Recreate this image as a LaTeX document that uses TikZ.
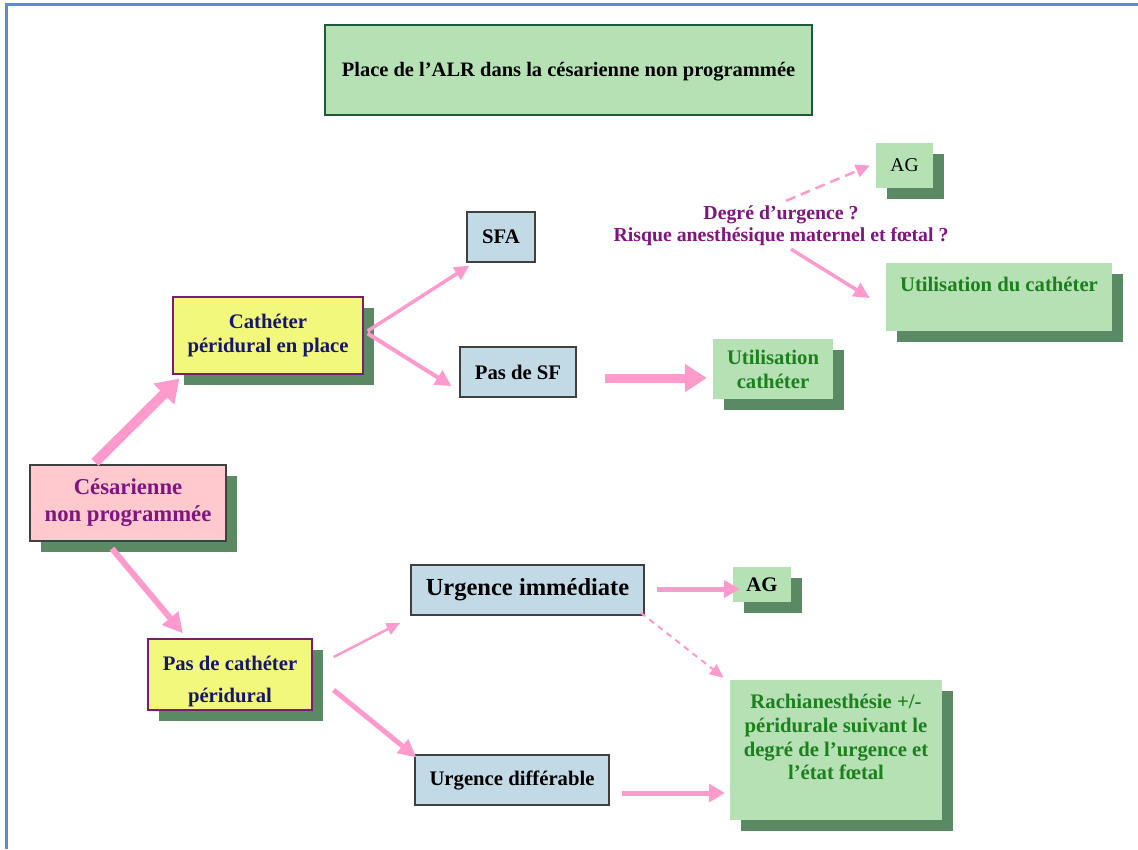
\documentclass[tikz,border=0pt]{standalone}
\usepackage{fontspec}
\setmainfont{Liberation Serif}
\usetikzlibrary{arrows.meta,shadows,calc}
\definecolor{lgreen}{HTML}{B5E1B5}
\definecolor{sgreen}{HTML}{5A8A64}
\definecolor{tborder}{HTML}{1E5A3A}
\definecolor{lblue}{HTML}{C2D9E6}
\definecolor{gborder}{HTML}{404040}
\definecolor{lyellow}{HTML}{F2F87C}
\definecolor{pborder}{HTML}{7A1A7A}
\definecolor{lpink}{HTML}{FFC9CD}
\definecolor{apink}{HTML}{FF9ACD}
\definecolor{tpurple}{HTML}{80157F}
\definecolor{tnavy}{HTML}{16166E}
\definecolor{tgreen}{HTML}{1C801C}
\definecolor{fblue}{HTML}{5B8DD6}
\tikzset{
  base/.style={font=\fontsize{20.7}{24}\selectfont\bfseries, align=center, inner sep=0pt},
  shad/.style={drop shadow={shadow xshift=11pt, shadow yshift=-11pt, fill=sgreen, opacity=1}},
  greenbox/.style={base, fill=lgreen, shad, text=tgreen},
  bluebox/.style={base, fill=lblue, draw=gborder, line width=1.2pt, text=black},
  yellowbox/.style={base, fill=lyellow, draw=pborder, line width=1.2pt, shad, text=tnavy},
  pinkbox/.style={base, fill=lpink, draw=gborder, line width=1.2pt, shad, text=tpurple},
  parrow/.style={draw=apink, line cap=butt},
}
\begin{document}
\begin{tikzpicture}[x=1pt,y=-1pt]
\useasboundingbox (0,0) rectangle (1138,849);
\fill[white] (0,0) rectangle (1138,849);
% frame
\draw[fblue, line width=3pt] (6,849) -- (6,4.5) -- (1138,4.5);

% nodes
\node[base, fill=lgreen, draw=tborder, line width=1.5pt, minimum width=487pt, minimum height=90pt,
      font=\fontsize{20.5}{24}\selectfont\bfseries] (title) at (568.5,70)
  {\rule{0pt}{17pt}Place de l’ALR dans la césarienne non programmée};

\node[greenbox, text=black, font=\fontsize{19.5}{24}\selectfont, minimum width=57pt, minimum height=45pt] (agtop) at (904.5,165.5) {AG};

\node[base, text=tpurple, font=\fontsize{19.8}{22}\selectfont\bfseries] (deg) at (781,226)
  {Degré d’urgence ?\\Risque anesthésique maternel et fœtal ?};

\node[greenbox, minimum width=226pt, minimum height=68pt] (utilcath) at (999,297)
  {Utilisation du cathéter\\[2pt]\mbox{}};

\node[bluebox, minimum width=68pt, minimum height=50pt] (sfa) at (501,237) {SFA};
\node[bluebox, minimum width=116pt, minimum height=50pt] (passf) at (518,372) {Pas de SF};

\node[greenbox, minimum width=120pt, minimum height=60pt] (utilc) at (773,369)
  {Utilisation\\cathéter};

\node[yellowbox, minimum width=190pt, minimum height=77pt] (cath) at (268,335.5)
  {Cathéter\\péridural en place};

\node[pinkbox, minimum width=196pt, minimum height=76pt, font=\fontsize{22.7}{27}\selectfont\bfseries] (ces) at (128,503)
  {Césarienne\\non programmée};

\node[yellowbox, minimum width=164pt, minimum height=71pt] (pascath) at (230,674.5)
  {\rule{0pt}{29pt}Pas de cathéter\\[8pt]péridural};

\node[bluebox, minimum width=233pt, minimum height=50pt, font=\fontsize{24.5}{28}\selectfont\bfseries] (urgimm) at (527.5,590)
  {Urgence immédiate};

\node[greenbox, text=black, minimum width=58pt, minimum height=35pt] (aglow) at (762,584.5) {AG};

\node[bluebox, minimum width=194pt, minimum height=50pt] (urgdiff) at (512,780)
  {Urgence différable};

\node[greenbox, minimum width=212pt, minimum height=140pt, font=\fontsize{20.7}{23.7}\selectfont\bfseries] (rachi) at (836,750)
  {Rachianesthésie +/-\\péridurale suivant le\\degré de l’urgence et\\l’état fœtal\\[2pt]\mbox{}};

% connectors
\draw[parrow, line width=10pt, -{Triangle[length=22pt,width=28pt]}]
  ($(ces.north)+(-33,-2)$) -- ($(cath.south west)+(7,4)$);
\draw[parrow, line width=6pt, -{Triangle[length=20pt,width=20pt]}]
  ($(ces.south)+(-16,7)$) -- ($(pascath.north)+(-47,-5)$);
\draw[parrow, line width=3.5pt, -{Triangle[length=15pt,width=14pt]}]
  ($(cath.east)+(4,-4.5)$) -- ($(sfa.south west)+(3,3)$);
\draw[parrow, line width=4pt, -{Triangle[length=16pt,width=16pt]}]
  ($(cath.east)+(4,-2)$) -- ($(passf.west)+(-8,14)$);
\draw[parrow, line width=9pt, -{Triangle[length=22pt,width=27pt]}]
  ($(passf.east)+(28,6)$) -- ($(utilc.west)+(-6,9)$);
\draw[parrow, line width=3.5pt, -{Triangle[length=16pt,width=15pt]}]
  ($(deg.south)+(10,3)$) -- ($(utilcath.west)+(-16,1)$);
\draw[parrow, line width=2.5pt, dash pattern=on 10pt off 6pt, -{Triangle[length=14pt,width=13pt]}]
  ($(deg.north)+(5,-5)$) -- ($(agtop.west)+(-6,0)$);
\draw[parrow, line width=2.5pt, -{Triangle[length=14pt,width=12pt]}]
  ($(pascath.east)+(21,-17.5)$) -- ($(urgimm.south west)+(-10,7)$);
\draw[parrow, line width=5pt, -{Triangle[length=18pt,width=17pt]}]
  ($(pascath.east)+(21,15.5)$) -- ($(urgdiff.north west)+(2,3)$);
\draw[parrow, line width=5pt, -{Triangle[length=16pt,width=17pt]}]
  ($(urgimm.east)+(12,-1)$) -- ($(aglow.west)+(7,4.5)$);
\draw[parrow, line width=2pt, dash pattern=on 6pt off 5pt, -{Triangle[length=14pt,width=12pt]}]
  ($(urgimm.south east)+(-4,-3)$) -- ($(rachi.north west)+(-6,-2)$);
\draw[parrow, line width=5pt, -{Triangle[length=16pt,width=18pt]}]
  ($(urgdiff.east)+(12,13)$) -- ($(rachi.west)+(-5,43)$);
\end{tikzpicture}
\end{document}
